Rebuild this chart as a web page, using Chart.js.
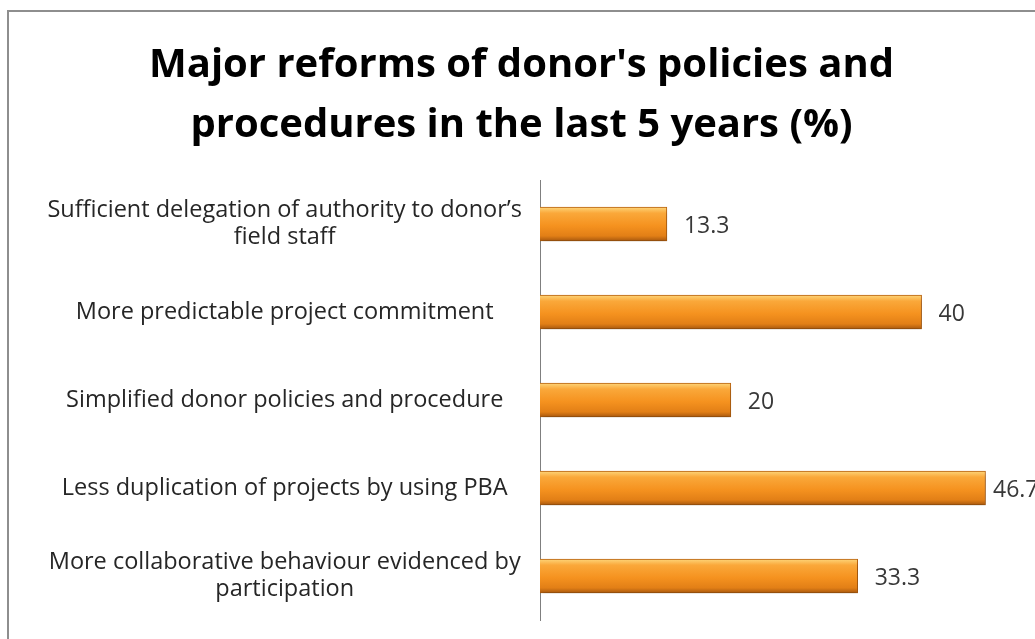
<!DOCTYPE html>
<html>
<head>
<meta charset="utf-8">
<script src="https://cdn.jsdelivr.net/npm/chart.js@4/dist/chart.umd.min.js"></script>
<style>
  html, body { margin: 0; padding: 0; background: #fff; overflow: hidden; }
  #wrap { position: absolute; left: 0; top: 0; width: 1035px; height: 639px; }
  #frame { position: absolute; left: 7px; top: 10px; width: 1100px; height: 700px; border: 2px solid #8e8e8e; }
</style>
</head>
<body>
<div id="wrap">
  <div id="frame"></div>
  <canvas id="reforms" width="1035" height="639"></canvas>
</div>
<script>
// survey categories, top to bottom
var categories = [
    ["Sufficient delegation of authority to donor\u2019s", "field staff"],
    "More predictable project commitment",
    "Simplified donor policies and procedure",
    "Less duplication of projects by using PBA",
    ["More collaborative behaviour evidenced by", "participation"]
];
var percentValues = [13.3, 40, 20, 46.7, 33.3];
var titleLines = ["Major reforms of donor's policies and", "procedures in the last 5 years (%)"];

var BAR_H = 34;
var FONT = "'Open Sans'";

// orange bar with a light top edge and darker bottom
function barGradient(context) {
    var chart = context.chart;
    var yScale = chart.scales.y;
    if (!yScale || !chart.chartArea) {
        return '#f39323';
    }
    var yc = yScale.getPixelForValue(context.dataIndex);
    var g = chart.ctx.createLinearGradient(0, yc - BAR_H / 2, 0, yc + BAR_H / 2);
    g.addColorStop(0, '#fdd67a');
    g.addColorStop(0.18, '#faa83a');
    g.addColorStop(0.55, '#f5921f');
    g.addColorStop(0.85, '#e27f16');
    g.addColorStop(1, '#a8580e');
    return g;
}

var barShadow = {
    id: 'barShadow',
    beforeDatasetsDraw: function(chart) {
        var ctx = chart.ctx;
        ctx.save();
        ctx.shadowColor = 'rgba(0,0,0,0.28)';
        ctx.shadowBlur = 5;
        ctx.shadowOffsetY = 4;
        ctx.shadowOffsetX = 1;
    },
    afterDatasetsDraw: function(chart) {
        chart.ctx.restore();
    }
};

// value next to each bar, pulled in when it would run past the plot area
var valueLabels = {
    id: 'valueLabels',
    afterDatasetsDraw: function(chart) {
        var ctx = chart.ctx;
        var meta = chart.getDatasetMeta(0);
        var maxX = chart.chartArea.right - 24;
        ctx.save();
        ctx.font = '23px ' + FONT;
        ctx.fillStyle = '#383838';
        ctx.textAlign = 'left';
        ctx.textBaseline = 'middle';
        meta.data.forEach(function(bar, i) {
            ctx.fillText(String(percentValues[i]), Math.min(bar.x + 17, maxX), bar.y + 2);
        });
        ctx.restore();
    }
};

new Chart(document.getElementById("reforms"), {
    type: 'bar',
    data: {
        labels: categories,
        datasets: [{
            label: "%",
            data: percentValues,
            backgroundColor: barGradient,
            borderColor: '#b8620f',
            borderWidth: 1,
            borderSkipped: 'left',
            barThickness: BAR_H
        }]
    },
    options: {
        indexAxis: 'y',
        responsive: false,
        animation: false,
        layout: {
            padding: { left: 26, right: 18, top: 0, bottom: 19 }
        },
        plugins: {
            legend: { display: false },
            tooltip: { enabled: false },
            title: {
                display: true,
                text: titleLines,
                color: '#000',
                font: { family: FONT, size: 40, weight: 'bold', lineHeight: 1.5 },
                padding: { top: 36, bottom: 24 }
            }
        },
        scales: {
            x: {
                display: false,
                min: 0,
                max: 50
            },
            y: {
                grid: { display: false },
                border: { display: true, color: '#7f7f7f', width: 1 },
                afterFit: function(axis) {
                    axis.width = 514;
                    axis.paddingTop = 0;
                    axis.paddingBottom = 0;
                },
                ticks: {
                    crossAlign: 'center',
                    padding: 10,
                    color: '#262626',
                    font: { family: FONT, size: 23.5, lineHeight: 1.15 }
                }
            }
        }
    },
    plugins: [barShadow, valueLabels]
});
</script>
</body>
</html>
